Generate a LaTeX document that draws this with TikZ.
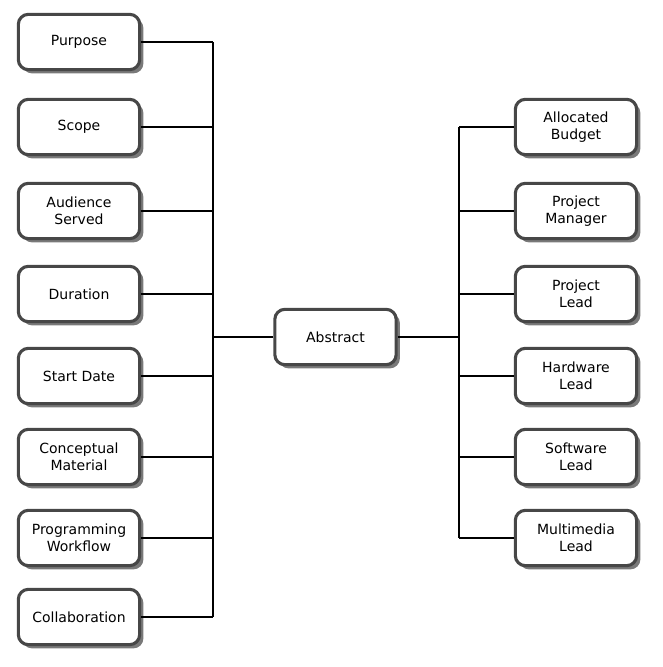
\documentclass[tikz,border=0pt]{standalone}
\usepackage{fontspec}
\setmainfont{DejaVu Sans}
\usetikzlibrary{shadows}
\tikzset{
  box/.style={draw=black!72, line width=2.3pt, fill=white, rounded corners=7.5pt,
    minimum width=91pt, minimum height=41.5pt, align=center, inner sep=2pt,
    font=\fontsize{10.5}{12.75}\selectfont,
    drop shadow={shadow xshift=2.8pt, shadow yshift=-2.8pt, fill=black!75, opacity=0.7}},
  conn/.style={draw=black, line width=1.4pt},
}
\begin{document}
\begin{tikzpicture}[x=0.75pt,y=-0.75pt]
\useasboundingbox (0,0) rectangle (662,667);
% left nodes
\node[box] (purpose) at (79,42) {Purpose};
\node[box] (scope) at (79,127) {Scope};
\node[box] (aud) at (79,211) {Audience\\Served};
\node[box] (dur) at (79,294) {Duration};
\node[box] (start) at (79,376) {Start Date};
\node[box] (concept) at (79,457) {Conceptual\\Material};
\node[box] (prog) at (79,538) {Programming\\Workflow};
\node[box] (collab) at (79,617) {Collaboration};
% center
\node[box] (abs) at (335.5,337) {Abstract};
% right nodes
\node[box] (budget) at (576,127) {Allocated\\Budget};
\node[box] (pm) at (576,211) {Project\\Manager};
\node[box] (pl) at (576,294) {Project\\Lead};
\node[box] (hw) at (576,376) {Hardware\\Lead};
\node[box] (sw) at (576,457) {Software\\Lead};
\node[box] (mm) at (576,538) {Multimedia\\Lead};
% buses
\coordinate (busL) at (213,337);
\coordinate (busR) at (459,337);
\foreach \n in {purpose,scope,aud,dur,start,concept,prog,collab}
  \draw[conn] (\n.east) -- (\n.east -| busL);
\draw[conn] (purpose.east -| busL) -- (collab.east -| busL);
\draw[conn] (abs.west) -- (busL);
\draw[conn] (abs.east) -- (busR);
\foreach \n in {budget,pm,pl,hw,sw,mm}
  \draw[conn] (\n.west) -- (\n.west -| busR);
\draw[conn] (budget.west -| busR) -- (mm.west -| busR);
\end{tikzpicture}
\end{document}
